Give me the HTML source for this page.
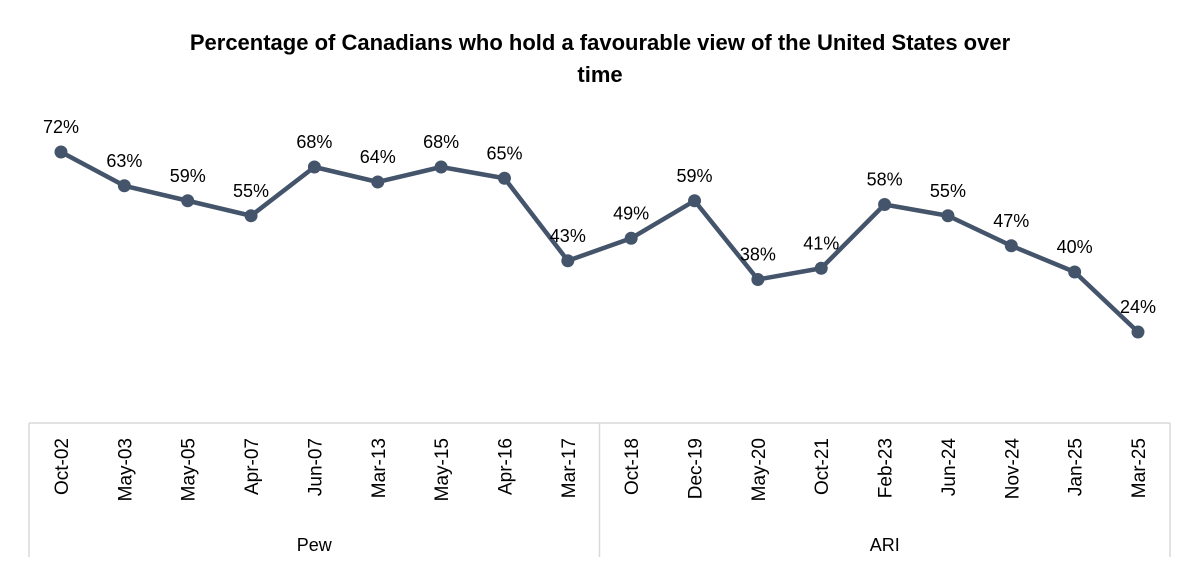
<!DOCTYPE html>
<html><head><meta charset="utf-8"><style>
body{margin:0;background:#fff;}
svg{display:block;font-family:"Liberation Sans",sans-serif;}
</style></head><body>
<svg id="chart" width="1200" height="571">
<text x="600" y="50" text-anchor="middle" font-size="22" font-weight="bold" fill="#000">Percentage of Canadians who hold a favourable view of the United States over</text>
<text x="600" y="82" text-anchor="middle" font-size="22" font-weight="bold" fill="#000">time</text>
<g id="axis"></g>
<g id="series"></g>
</svg>
<script>
const categories=["Oct-02","May-03","May-05","Apr-07","Jun-07","Mar-13","May-15","Apr-16","Mar-17","Oct-18","Dec-19","May-20","Oct-21","Feb-23","Jun-24","Nov-24","Jan-25","Mar-25"];
const values=[72,63,59,55,68,64,68,65,43,49,59,38,41,58,55,47,40,24];
const groups=["Pew","ARI"];
const groupSizes=[9,9];
const NS="http://www.w3.org/2000/svg";
const x0=61,step=(1138-61)/17;
function xs(i){return x0+i*step;}
function ys(v){return 152+(72-v)*3.75;}
function mk(t,a,p){const e=document.createElementNS(NS,t);for(const k in a)e.setAttribute(k,a[k]);p.appendChild(e);return e;}
const ax=document.getElementById('axis'),se=document.getElementById('series');
const lc="#d9d9d9";
let l=mk('line',{x1:29,x2:1170,y1:423,y2:423,stroke:lc,'stroke-width':1.5},ax);


let start=0;
const bounds=[29];
groupSizes.forEach((n,g)=>{start+=n;bounds.push(g===groupSizes.length-1?1170:(xs(start-1)+xs(start))/2);});
bounds.forEach(b=>{const e=mk('line',{x1:b,x2:b,y1:423,y2:557,stroke:lc,'stroke-width':1.5},ax);

});
groups.forEach((g,i)=>{const t=mk('text',{x:(bounds[i]+bounds[i+1])/2,y:551,'text-anchor':'middle','font-size':18,fill:'#000'},ax);t.textContent=g;

});
categories.forEach((c,i)=>{const x=xs(i)+7;const t=mk('text',{x:x,y:438,'text-anchor':'end','font-size':19,fill:'#000',transform:`rotate(-90 ${x} 438)`},ax);t.textContent=c;

});
const pl=mk('polyline',{points:values.map((v,i)=>xs(i)+','+ys(v)).join(' '),fill:'none',stroke:'#44546a','stroke-width':4.5,'stroke-linejoin':'round'},se);


values.forEach((v,i)=>{const c=mk('circle',{cx:xs(i),cy:ys(v),r:6.5,fill:'#44546a'},se);


const t=mk('text',{x:xs(i),y:ys(v)-19,'text-anchor':'middle','font-size':18,fill:'#000'},se);t.textContent=v+'%';

});
</script>
</body></html>
